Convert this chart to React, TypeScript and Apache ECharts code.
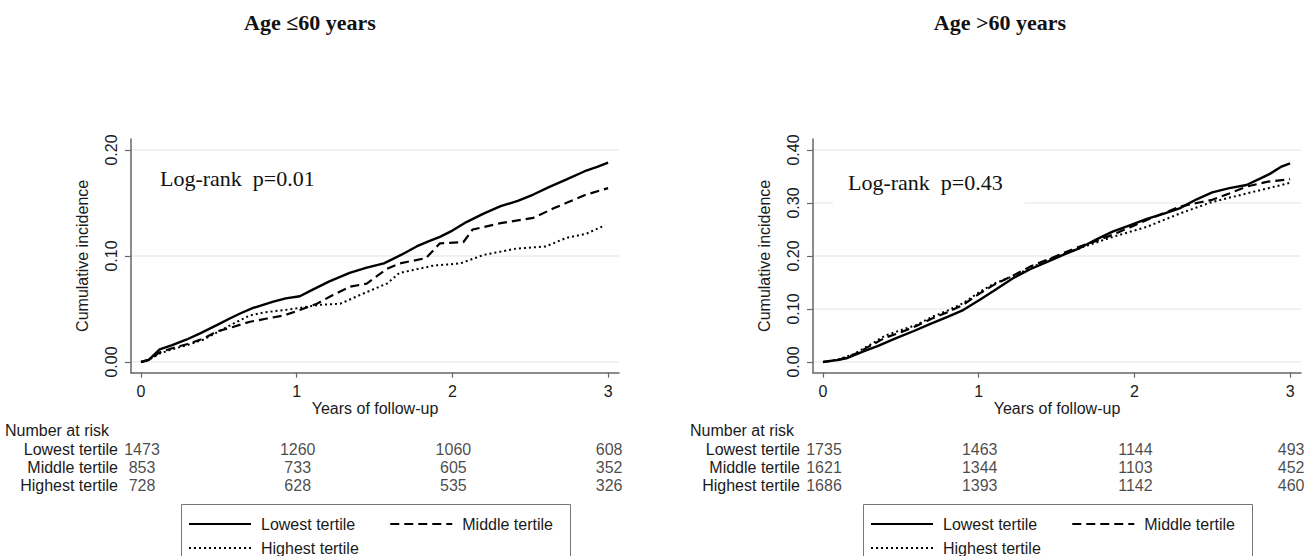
import React, { useEffect, useRef } from 'react';
import * as echarts from 'echarts';

const yearTicks = [0, 1, 2, 3];
const yTicksYoung = [0, 0.1, 0.2];
const yTicksOld = [0, 0.1, 0.2, 0.3, 0.4];
const groupNames = ['Lowest tertile', 'Middle tertile', 'Highest tertile'];

const panelTitles = ['Age \u226460 years', 'Age >60 years'];
const logRankTexts = ['Log-rank  p=0.01', 'Log-rank  p=0.43'];

// Age <= 60: [years, cumulative incidence]
const youngLowest = [
  [0, 0], [0.05, 0.002], [0.12, 0.012], [0.2, 0.016], [0.29, 0.021], [0.38, 0.027], [0.49, 0.035],
  [0.57, 0.041], [0.64, 0.046], [0.72, 0.051], [0.85, 0.057], [0.93, 0.06], [1.02, 0.062], [1.1, 0.068],
  [1.21, 0.076], [1.34, 0.084], [1.45, 0.089], [1.56, 0.093], [1.67, 0.101], [1.77, 0.109], [1.85, 0.114],
  [1.92, 0.118], [2.0, 0.124], [2.09, 0.132], [2.2, 0.14], [2.31, 0.147], [2.42, 0.152], [2.52, 0.158],
  [2.62, 0.165], [2.73, 0.172], [2.85, 0.18], [2.93, 0.184], [3.0, 0.188],
];
const youngMiddle = [
  [0, 0], [0.05, 0.002], [0.12, 0.009], [0.2, 0.013], [0.3, 0.017], [0.4, 0.022], [0.49, 0.029],
  [0.59, 0.033], [0.7, 0.038], [0.81, 0.041], [0.92, 0.044], [1.02, 0.049], [1.13, 0.055], [1.23, 0.063],
  [1.34, 0.071], [1.45, 0.074], [1.58, 0.088], [1.66, 0.093], [1.83, 0.098], [1.92, 0.112], [2.07, 0.113],
  [2.13, 0.125], [2.31, 0.131], [2.52, 0.136], [2.65, 0.145], [2.73, 0.15], [2.86, 0.158], [3.0, 0.164],
];
const youngHighest = [
  [0, 0], [0.05, 0.002], [0.12, 0.008], [0.2, 0.012], [0.3, 0.016], [0.4, 0.021], [0.49, 0.028],
  [0.59, 0.036], [0.7, 0.044], [0.8, 0.047], [0.92, 0.049], [1.02, 0.051], [1.15, 0.054], [1.28, 0.055],
  [1.45, 0.066], [1.58, 0.074], [1.66, 0.084], [1.88, 0.091], [2.05, 0.093], [2.2, 0.101], [2.41, 0.107],
  [2.6, 0.109], [2.73, 0.117], [2.86, 0.121], [2.98, 0.129],
];

// Age > 60
const oldLowest = [
  [0, 0], [0.1, 0.004], [0.15, 0.007], [0.26, 0.02], [0.35, 0.03], [0.47, 0.045], [0.58, 0.058],
  [0.69, 0.072], [0.8, 0.085], [0.9, 0.098], [1.01, 0.118], [1.1, 0.135], [1.22, 0.158], [1.33, 0.175],
  [1.44, 0.189], [1.55, 0.203], [1.65, 0.215], [1.76, 0.232], [1.86, 0.246], [1.97, 0.258], [2.08, 0.27],
  [2.19, 0.28], [2.29, 0.29], [2.4, 0.307], [2.5, 0.32], [2.61, 0.328], [2.72, 0.334], [2.8, 0.345],
  [2.87, 0.355], [2.94, 0.368], [3.0, 0.375],
];
const oldMiddle = [
  [0, 0], [0.1, 0.004], [0.2, 0.014], [0.3, 0.03], [0.4, 0.046], [0.5, 0.056], [0.6, 0.068],
  [0.7, 0.082], [0.8, 0.094], [0.9, 0.108], [1.01, 0.13], [1.1, 0.146], [1.22, 0.163], [1.33, 0.18],
  [1.44, 0.193], [1.54, 0.205], [1.65, 0.218], [1.76, 0.229], [1.86, 0.24], [1.97, 0.254], [2.08, 0.268],
  [2.19, 0.281], [2.29, 0.293], [2.4, 0.3], [2.5, 0.306], [2.61, 0.318], [2.72, 0.331], [2.85, 0.34],
  [3.0, 0.345],
];
const oldHighest = [
  [0, 0], [0.1, 0.005], [0.2, 0.015], [0.3, 0.032], [0.4, 0.05], [0.5, 0.06], [0.6, 0.07],
  [0.7, 0.085], [0.8, 0.097], [0.9, 0.111], [1.01, 0.133], [1.1, 0.148], [1.22, 0.162], [1.44, 0.192],
  [1.65, 0.215], [1.86, 0.236], [2.08, 0.255], [2.29, 0.28], [2.5, 0.302], [2.72, 0.318], [2.86, 0.328],
  [3.0, 0.338],
];

// Number at risk at years 0,1,2,3
const riskYoungLowest = [1473, 1260, 1060, 608];
const riskYoungMiddle = [853, 733, 605, 352];
const riskYoungHighest = [728, 628, 535, 326];
const riskOldLowest = [1735, 1463, 1144, 493];
const riskOldMiddle = [1621, 1344, 1103, 452];
const riskOldHighest = [1686, 1393, 1142, 460];

const SANS = 'Liberation Sans, Arial, Helvetica, sans-serif';
const SERIF = 'Liberation Serif, Times New Roman, serif';
const TXT = '#1a1a1a';
const AXIS = '#666';

const lineStyles = [
  { type: 'solid', width: 2.4 },
  { type: [9, 5], width: 2.2 },
  { type: [2, 3], width: 2 },
];

export default function App() {
  const ref = useRef<HTMLDivElement>(null);
  useEffect(() => {
    if (!ref.current) return;
    const chart = echarts.init(ref.current, undefined, { renderer: 'svg' });

    const panels = [
      { left: 131, right: 1313 - 619, yMin: -0.0101, yMax: 0.2104, yTicks: yTicksYoung, curves: [youngLowest, youngMiddle, youngHighest], risk: [riskYoungLowest, riskYoungMiddle, riskYoungHighest] },
      { left: 813, right: 12, yMin: -0.0202, yMax: 0.4208, yTicks: yTicksOld, curves: [oldLowest, oldMiddle, oldHighest], risk: [riskOldLowest, riskOldMiddle, riskOldHighest] },
    ];

    const grid: any[] = [];
    const xAxis: any[] = [];
    const yAxis: any[] = [];
    const series: any[] = [];
    const xMin = -0.0642;
    const xMax = 3.07;

    panels.forEach((p) => {
      const gMain = grid.length;
      grid.push({ left: p.left, right: p.right, top: 139, bottom: 556 - 372.7, containLabel: false });
      xAxis.push({
        type: 'value', gridIndex: gMain, min: xMin, max: xMax,
        name: 'Years of follow-up', nameLocation: 'middle', nameGap: 28,
        nameTextStyle: { fontFamily: SANS, fontSize: 16, color: TXT },
        axisLine: { onZero: false, lineStyle: { color: AXIS, width: 1.5 } },
        axisTick: { customValues: yearTicks, length: 5, lineStyle: { color: AXIS, width: 1.2 } },
        axisLabel: { customValues: yearTicks, margin: 11, fontFamily: SANS, fontSize: 16, color: TXT },
        splitLine: { show: false },
      });
      yAxis.push({
        type: 'value', gridIndex: gMain, min: p.yMin, max: p.yMax,
        name: 'Cumulative incidence', nameLocation: 'middle', nameGap: 41,
        nameTextStyle: { fontFamily: SANS, fontSize: 16, color: TXT },
        axisLine: { onZero: false, lineStyle: { color: AXIS, width: 1.5 } },
        axisTick: { customValues: p.yTicks, length: 6, lineStyle: { color: AXIS, width: 1.2 } },
        axisLabel: { customValues: p.yTicks, rotate: 90, margin: 12, fontFamily: SANS, fontSize: 16, color: TXT, formatter: (v: number) => v.toFixed(2) },
        splitLine: { show: true, lineStyle: { color: '#ececec', width: 1.5 } },
      });
      p.curves.forEach((c, ci) => {
        series.push({
          type: 'line', name: groupNames[ci], xAxisIndex: gMain, yAxisIndex: gMain,
          data: c, showSymbol: false, symbol: 'none', smooth: false,
          lineStyle: { color: '#000', ...lineStyles[ci] },
          itemStyle: { color: '#000' },
          z: 3 + (2 - ci),
        });
      });

      // Risk table grid
      const gRisk = grid.length;
      grid.push({ left: p.left, right: p.right, top: 440, height: 54, containLabel: false });
      xAxis.push({ type: 'value', gridIndex: gRisk, min: xMin, max: xMax, show: false });
      yAxis.push({
        type: 'category', gridIndex: gRisk, data: groupNames, inverse: true,
        axisLine: { show: false }, axisTick: { show: false }, splitLine: { show: false },
        axisLabel: { interval: 0, margin: 13, fontFamily: SANS, fontSize: 16, color: TXT },
      });
      const riskData: any[] = [];
      p.risk.forEach((row, ri) => {
        row.forEach((n, ti) => riskData.push([yearTicks[ti], ri, n]));
      });
      series.push({
        type: 'scatter', xAxisIndex: gRisk, yAxisIndex: gRisk, data: riskData,
        symbolSize: 1, itemStyle: { color: 'rgba(0,0,0,0)' }, silent: true,
        label: { show: true, position: 'inside', offset: [1, 0], formatter: (pp: any) => String(pp.value[2]), fontFamily: SANS, fontSize: 16, color: TXT },
      });
    });

    const legendCommon = {
      orient: 'horizontal', padding: 0,
      itemWidth: 62, itemHeight: 14,
      itemStyle: { color: 'rgba(0,0,0,0)', borderColor: 'rgba(0,0,0,0)', borderWidth: 0, opacity: 0 },
      textStyle: { fontFamily: SANS, fontSize: 16, color: TXT, padding: [0, 0, 0, 5] },
    };
    const boxLefts = [181, 863];
    const legends: any[] = [];
    boxLefts.forEach((bx) => {
      legends.push({ ...legendCommon, left: bx + 7, top: 516, itemGap: 34, data: [groupNames[0], groupNames[1]] });
      legends.push({ ...legendCommon, left: bx + 7, top: 540, itemGap: 10, data: [groupNames[2]] });
    });

    const graphic: any[] = [];
    boxLefts.forEach((bx) => {
      graphic.push({
        type: 'rect', shape: { x: bx + 0.5, y: 504.5, width: 389, height: 70 },
        style: { fill: 'none', stroke: '#777', lineWidth: 1 }, silent: true,
      });
    });
    const titleXs = [310, 1000];
    panelTitles.forEach((t, i) => {
      graphic.push({
        type: 'text', x: titleXs[i], y: 22,
        style: { text: t, font: `bold 22px ${SERIF}`, fill: '#111', align: 'center', verticalAlign: 'middle' },
      });
    });
    const lrXs = [145, 833];
    const lrYs = [178, 182];
    logRankTexts.forEach((t, i) => {
      graphic.push({
        type: 'text', x: lrXs[i], y: lrYs[i], z: 5,
        style: { text: t, font: `22px ${SERIF}`, fill: '#111', align: 'left', verticalAlign: 'middle', backgroundColor: '#fff', padding: [10, 22, 12, 15] },
      });
    });
    const narXs = [5, 690];
    narXs.forEach((x) => {
      graphic.push({
        type: 'text', x, y: 430,
        style: { text: 'Number at risk', font: `16px ${SANS}`, fill: TXT, align: 'left', verticalAlign: 'middle' },
      });
    });

    chart.setOption({
      animation: false,
      backgroundColor: '#fff',
      grid, xAxis, yAxis, series,
      legend: legends,
      graphic,
    });
    return () => chart.dispose();
  }, []);
  return <div ref={ref} style={{ position: 'fixed', left: 0, top: 0, width: 1313, height: 556 }} />;
}
